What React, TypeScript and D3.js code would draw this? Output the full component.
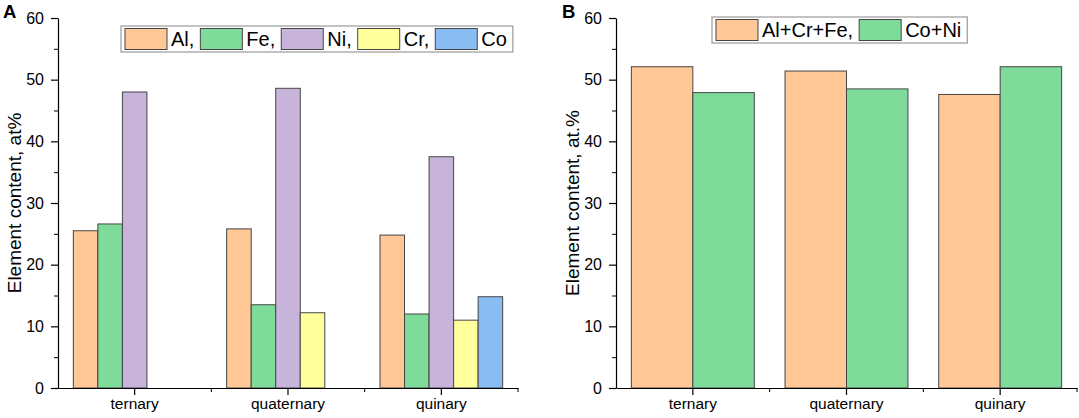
import { useEffect, useRef } from "react";
import * as d3 from "d3";

const categories = ["ternary", "quaternary", "quinary"];

// panel A
const elementNames = ["Al,", "Fe,", "Ni,", "Cr,", "Co"];
const alValues = [25.5, 25.8, 24.8];
const feValues = [26.6, 13.5, 12.0];
const niValues = [48.0, 48.6, 37.5];
const crValues = [null, 12.2, 11.0];
const coValues = [null, null, 14.8];
const elementColors = ["#FFC896", "#7FDB9A", "#C8B3DB", "#FFFF9C", "#89BCF2"];

// panel B
const groupNames = ["Al+Cr+Fe,", "Co+Ni"];
const alCrFeValues = [52.1, 51.4, 47.6];
const coNiValues = [47.9, 48.5, 52.1];
const groupColors = ["#FFC896", "#7FDB9A"];

const yMajorTicks = [0, 10, 20, 30, 40, 50, 60];
const yMinorTicks = [5, 15, 25, 35, 45, 55];

const FONT = "'Liberation Sans', Arial, sans-serif";

type Panel = {
  letter: string;
  letterX: number;
  left: number;
  right: number;
  title: string;
  names: string[];
  series: (number | null)[][];
  colors: string[];
  legendX: number;
  legendY: number;
};

const top = 18;
const bottom = 388;

function drawPanel(svg: d3.Selection<SVGSVGElement, unknown, null, undefined>, p: Panel) {
  const g = svg.append("g");
  const x = d3.scaleBand<string>().domain(categories).range([p.left, p.right]).paddingInner(0.2).paddingOuter(0.1);
  const xs = d3.scaleBand<number>().domain(d3.range(p.series.length)).range([0, x.bandwidth()]);
  const y = d3.scaleLinear().domain([0, 60]).range([bottom, top]);

  // bars
  p.series.forEach((vals, si) => {
    g.append("g")
      .selectAll("rect")
      .data(categories.map((c, i) => ({ c, v: vals[i] })).filter((d) => d.v != null))
      .join("rect")
      .attr("x", (d) => (x(d.c) as number) + (xs(si) as number))
      .attr("y", (d) => y(d.v as number))
      .attr("width", xs.bandwidth())
      .attr("height", (d) => y(0) - y(d.v as number))
      .attr("fill", p.colors[si])
      .attr("stroke", "#454545")
      .attr("stroke-width", 1);
  });

  // y axis
  const ya = g.append("g").attr("transform", `translate(${p.left},0)`)
    .call(d3.axisLeft(y).tickValues(yMajorTicks).tickSize(7).tickSizeOuter(0).tickPadding(7));
  g.append("g").attr("transform", `translate(${p.left},0)`)
    .call(d3.axisLeft(y).tickValues(yMinorTicks).tickSize(4).tickSizeOuter(0).tickFormat(() => ""))
    .select(".domain").remove();
  ya.selectAll("text").attr("font-size", 16).attr("font-family", FONT).attr("fill", "#000");

  // x axis
  const xa = g.append("g").attr("transform", `translate(0,${bottom})`)
    .call(d3.axisBottom(x).tickSize(7).tickSizeOuter(0).tickPadding(3));
  xa.selectAll("text").attr("font-size", 15.5).attr("font-family", FONT).attr("fill", "#000");
  const minor = d3.range(1, categories.length + 1).map((i) => p.left + x.step() * x.paddingOuter() + x.step() * i - x.step() * x.paddingInner() / 2);
  g.append("g").selectAll("line").data(minor).join("line")
    .attr("x1", (d) => d).attr("x2", (d) => d)
    .attr("y1", bottom).attr("y2", bottom + 4)
    .attr("stroke", "#000");
  [ya, xa].forEach((a) => a.selectAll("path, line").attr("stroke", "#000").attr("stroke-width", 1.2));

  // axis title
  g.append("text")
    .attr("transform", `translate(${p.left - 37},${(top + bottom) / 2}) rotate(-90)`)
    .attr("text-anchor", "middle")
    .attr("font-size", 19)
    .attr("font-family", FONT)
    .text(p.title);

  // panel letter
  g.append("text")
    .attr("x", p.letterX).attr("y", 18)
    .attr("font-size", 18.5).attr("font-weight", "bold").attr("font-family", FONT)
    .text(p.letter);

  // legend
  const lg = g.append("g");
  const box = lg.append("rect").attr("fill", "#fff").attr("stroke", "#9a9a9a").attr("stroke-width", 1.2);
  let cx = p.legendX + 4;
  p.names.forEach((name, i) => {
    lg.append("rect")
      .attr("x", cx).attr("y", p.legendY + 2.5)
      .attr("width", 42).attr("height", 21)
      .attr("fill", p.colors[i]).attr("stroke", "#454545");
    const t = lg.append("text")
      .attr("x", cx + 46).attr("y", p.legendY + 20)
      .attr("font-size", 20).attr("font-family", FONT)
      .text(name);
    cx += 46 + (t.node() as SVGTextElement).getComputedTextLength() + 6;
  });
  box.attr("x", p.legendX).attr("y", p.legendY).attr("width", cx - p.legendX).attr("height", 26);
}

export default function App() {
  const ref = useRef<SVGSVGElement>(null);
  useEffect(() => {
    const svg = d3.select(ref.current as SVGSVGElement);
    svg.selectAll("*").remove();
    drawPanel(svg, {
      letter: "A", letterX: 3, left: 58, right: 518,
      title: "Element content, at%",
      names: elementNames,
      series: [alValues, feValues, niValues, crValues, coValues],
      colors: elementColors,
      legendX: 121, legendY: 26,
    });
    drawPanel(svg, {
      letter: "B", letterX: 562, left: 616, right: 1077,
      title: "Element content, at.%",
      names: groupNames,
      series: [alCrFeValues, coNiValues],
      colors: groupColors,
      legendX: 712, legendY: 17,
    });
  }, []);
  return (
    <svg ref={ref} width={1079} height={418}
      style={{ position: "absolute", left: 0, top: 0, background: "#fff" }} />
  );
}
